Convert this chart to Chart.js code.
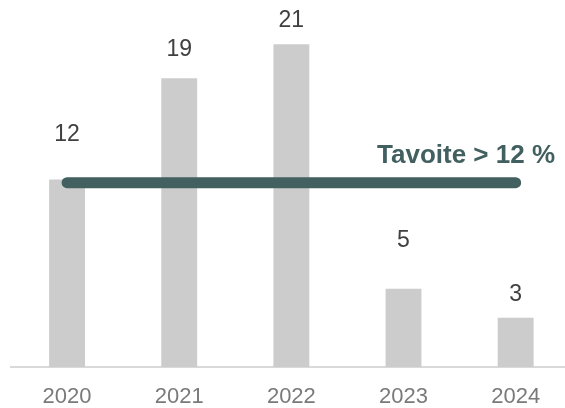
<!DOCTYPE html>
<html>
<head>
<meta charset="utf-8">
<script src="https://cdn.jsdelivr.net/npm/chart.js@4.4.0/dist/chart.umd.min.js"></script>
<style>
    html, body { margin: 0; padding: 0; background: #ffffff; }
    #wrap { width: 565px; height: 408px; }
</style>
</head>
<body>
<div id="wrap"><canvas id="ratioChart"></canvas></div>
<script>
var years = ['2020', '2021', '2022', '2023', '2024'];
var ratioValues = [12.2, 18.8, 21, 5.1, 3.2];
var targetValue = 12;
var targetSpan = [0, 4];
var targetText = 'Tavoite > 12 %';

(function () {
    var lineColor = '#42605f';

    var barPoints = ratioValues.map(function (value, i) {
        return { x: i, y: value };
    });

    var decorations = {
        id: 'decorations',
        afterDatasetsDraw: function (chart, args, opts) {
            var ctx = chart.ctx;
            var area = chart.chartArea;
            var meta = chart.getDatasetMeta(1);
            var y = chart.scales.y;

            ctx.save();
            // value labels
            ctx.fillStyle = '#404040';
            ctx.font = '23px "Liberation Sans", Arial, sans-serif';
            ctx.textAlign = 'center';
            ctx.textBaseline = 'middle';
            meta.data.forEach(function (bar, i) {
                ctx.fillText(Math.round(ratioValues[i]), bar.x, bar.y - opts.lift[i]);
            });

            // target caption
            ctx.fillStyle = lineColor;
            ctx.font = 'bold 26px "Liberation Sans", Arial, sans-serif';
            ctx.textAlign = 'right';
            ctx.textBaseline = 'alphabetic';
            ctx.fillText(targetText, area.right - 10, y.getPixelForValue(targetValue) - 20);
            ctx.restore();
        }
    };

    new Chart(document.getElementById('ratioChart'), {
        type: 'bar',
        data: {
            datasets: [
                {
                    type: 'line',
                    label: targetText,
                    data: [
                        { x: targetSpan[0], y: targetValue },
                        { x: targetSpan[1], y: targetValue }
                    ],
                    borderColor: lineColor,
                    borderWidth: 11,
                    borderCapStyle: 'round',
                    pointRadius: 0,
                    fill: false,
                    order: 0
                },
                {
                    label: 'Ratio',
                    data: barPoints,
                    backgroundColor: '#cccccc',
                    borderWidth: 0,
                    grouped: false,
                    barPercentage: 0.32,
                    categoryPercentage: 1,
                    order: 1
                }
            ]
        },
        options: {
            responsive: true,
            maintainAspectRatio: false,
            animation: false,
            layout: {
                padding: { top: 29, left: 11, right: 0, bottom: 0 }
            },
            plugins: {
                legend: { display: false },
                tooltip: { enabled: false },
                decorations: { lift: [45, 29, 24, 48, 23] }
            },
            scales: {
                x: {
                    type: 'linear',
                    min: -0.5,
                    max: 4.44,
                    offset: false,
                    grid: { display: false, drawTicks: false, offset: false },
                    border: { display: true, color: '#d9d9d9', width: 2 },
                    afterBuildTicks: function (scale) {
                        scale.ticks = years.map(function (year, i) {
                            return { value: i };
                        });
                    },
                    ticks: {
                        color: '#7a7a7a',
                        padding: 17,
                        font: { size: 22, family: '"Liberation Sans", Arial, sans-serif' },
                        callback: function (value) {
                            return years[value];
                        }
                    },
                    afterFit: function (scale) {
                        scale.height = 41;
                    }
                },
                y: {
                    display: false,
                    min: 0,
                    max: 22
                }
            }
        },
        plugins: [decorations]
    });
})();
</script>
</body>
</html>
